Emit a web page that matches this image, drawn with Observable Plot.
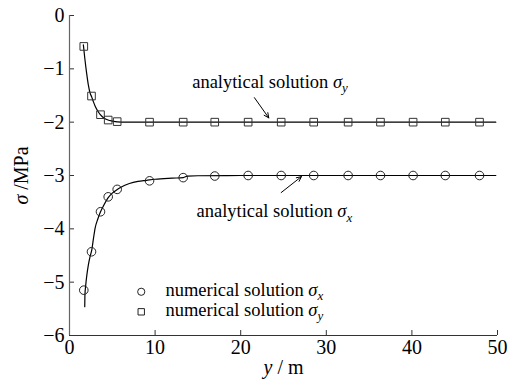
<!DOCTYPE html>
<html>
<head>
<meta charset="utf-8">
<script src="https://cdn.jsdelivr.net/npm/d3@7"></script>
<script src="https://cdn.jsdelivr.net/npm/@observablehq/plot@0.6"></script>
<style>
  html, body { margin: 0; padding: 0; background: #fff; }
  #chart { width: 520px; height: 379px; }
  #chart svg, #chart svg text { font-family: "Liberation Serif", "Times New Roman", serif !important; }
</style>
</head>
<body>
<div id="chart"></div>
<script>
// numerical solution sample positions (m) and values (MPa)
const numX  = [1.67, 2.57, 3.62, 4.52, 5.57, 9.35, 13.28, 16.97, 20.87, 24.73, 28.53, 32.55, 36.33, 40.14, 43.9, 47.9];
const numSx = [-5.15, -4.43, -3.68, -3.40, -3.26, -3.10, -3.04, -3.01, -3.0, -3.0, -3.0, -3.0, -3.0, -3.0, -3.0, -3.0];
const numSy = [-0.58, -1.51, -1.86, -1.96, -1.99, -2.0, -2.0, -2.0, -2.0, -2.0, -2.0, -2.0, -2.0, -2.0, -2.0, -2.0];

// analytical curves
const anaXx = [1.78, 1.8, 1.9, 2.0, 2.2, 2.4, 2.6, 2.8, 3.0, 3.3, 3.6, 4.0, 4.5, 5.0, 5.5, 6.0, 7.0, 8.0, 9.0, 10.0, 12.0, 13.3, 13.8, 15.0, 20.0, 30.0, 40.0, 49.8];
const anaSx = [-5.46, -5.25, -5.05, -4.90, -4.68, -4.52, -4.40, -4.18, -3.98, -3.82, -3.69, -3.56, -3.42, -3.33, -3.27, -3.22, -3.15, -3.11, -3.09, -3.07, -3.05, -3.04, -3.01, -3.005, -3.0, -3.0, -3.0, -3.0];
const anaXy = [1.62, 1.8, 2.0, 2.2, 2.4, 2.6, 2.8, 3.0, 3.3, 3.6, 4.0, 4.5, 5.0, 5.6, 6.5, 8.0, 20.0, 35.0, 49.8];
const anaSy = [-0.55, -0.82, -1.08, -1.30, -1.45, -1.53, -1.62, -1.70, -1.79, -1.86, -1.92, -1.96, -1.98, -1.995, -2.0, -2.0, -2.0, -2.0, -2.0];

// axis ticks
const xTicks = [0, 10, 20, 30, 40, 50];
const yTicks = [0, -1, -2, -3, -4, -5, -6];

// annotations
const annoText = ["analytical solution σ_y", "analytical solution σ_x"];
const annoX    = [14.33, 14.84];
const annoY    = [-1.24, -3.675];
const arrowX1  = [21.6, 24.73];
const arrowY1  = [-1.54, -3.32];
const arrowX2  = [23.28, 27.1];
const arrowY2  = [-1.92, -3.02];

// legend
const legendText   = ["numerical solution σ_x", "numerical solution σ_y"];
const legendSymbol = ["circle", "square"];
const legendX      = 8.38;
const legendTextX  = 11.21;
const legendSymY   = [-5.18, -5.556];
const legendTextY  = [-5.14, -5.52];

const FONT = "Liberation Serif, Times New Roman, serif";

const numData = numX.map((x, i) => ({x, sx: numSx[i], sy: numSy[i]}));
const anaX = anaXx.map((x, i) => ({x, y: anaSx[i]}));
const anaY = anaXy.map((x, i) => ({x, y: anaSy[i]}));
const annos = annoText.map((t, i) => ({t, x: annoX[i], y: annoY[i], x1: arrowX1[i], y1: arrowY1[i], x2: arrowX2[i], y2: arrowY2[i]}));
const legend = legendText.map((t, i) => ({t, s: legendSymbol[i], ys: legendSymY[i], yt: legendTextY[i]}));

const chart = Plot.plot({
  width: 520,
  height: 379,
  marginLeft: 69,
  marginRight: 23,
  marginTop: 15,
  marginBottom: 44,
  style: {fontFamily: FONT, background: "#fff"},
  x: {domain: [0, 50]},
  y: {domain: [-6, 0]},
  marks: [
    Plot.axisX({ticks: xTicks, tickSize: -5, tickPadding: 9, fontSize: 20, stroke: "#333", fontFamily: FONT,
      label: "y_ / m", labelAnchor: "center", labelArrow: "none", labelOffset: 38, tickFormat: d => String(d)}),
    Plot.axisY({ticks: yTicks, tickSize: -5, tickPadding: 10, fontSize: 20, stroke: "#333", fontFamily: FONT,
      label: "σ_ /MPa", labelAnchor: "center", labelArrow: "none", labelOffset: 56,
      tickFormat: d => d === 0 ? "0" : "\u2212" + Math.abs(d)}),
    Plot.ruleX([0], {stroke: "#666", strokeWidth: 1.2}),
    Plot.ruleY([-6], {stroke: "#333", strokeWidth: 1.2}),
    Plot.line(anaX, {x: "x", y: "y", stroke: "#000", strokeWidth: 1.2, curve: "monotone-x"}),
    Plot.line(anaY, {x: "x", y: "y", stroke: "#000", strokeWidth: 1.2, curve: "monotone-x"}),
    Plot.dot(numData, {x: "x", y: "sx", r: 4.3, stroke: "#222", strokeWidth: 1, fill: "none", symbol: "circle"}),
    Plot.dot(numData, {x: "x", y: "sy", r: 4.3, stroke: "#333", strokeWidth: 1, fill: "none", symbol: "square"}),
    Plot.arrow(annos, {x1: "x1", y1: "y1", x2: "x2", y2: "y2", stroke: "#000", strokeWidth: 1, headLength: 8, headAngle: 50}),
    Plot.text(annos, {x: "x", y: "y", text: "t", fontSize: 18.5, fill: "#000", textAnchor: "start", fontFamily: FONT}),
    Plot.dot(legend, {x: legendX, y: "ys", symbol: "s", r: 3.6, stroke: "#222", strokeWidth: 1, fill: "none"}),
    Plot.text(legend, {x: legendTextX, y: "yt", text: "t", fontSize: 18.5, fill: "#000", textAnchor: "start", fontFamily: FONT})
  ]
});

// render math-style text: "σ_x" -> italic σ with subscript italic x; "y_" -> italic y
d3.select(chart).selectAll("text").each(function() {
  const el = d3.select(this);
  const tsp = el.selectAll("tspan");
  const targets = tsp.empty() ? [el] : tsp.nodes().map(n => d3.select(n));
  targets.forEach(t => {
    const s = t.text();
    let m;
    if ((m = s.match(/^(.*)σ_([xy])$/))) {
      t.text(null);
      t.append("tspan").text(m[1]);
      t.append("tspan").attr("font-style", "italic").text("σ");
      t.append("tspan").attr("font-style", "italic").attr("font-size", "0.7em").attr("dy", "0.35em").text(m[2]);
    } else if ((m = s.match(/^σ_ (.*)$/))) {
      t.text(null);
      t.append("tspan").attr("font-style", "italic").text("σ");
      t.append("tspan").text(" " + m[1]);
    } else if ((m = s.match(/^y_ (.*)$/))) {
      t.text(null);
      t.append("tspan").attr("font-style", "italic").text("y");
      t.append("tspan").text(" " + m[1]);
    }
  });
});
d3.select(chart).attr("font-family", FONT);
d3.select(chart).selectAll("[aria-label='x-axis label'], [aria-label='y-axis label']").attr("font-size", 20);

document.getElementById("chart").appendChild(chart);
</script>
</body>
</html>
